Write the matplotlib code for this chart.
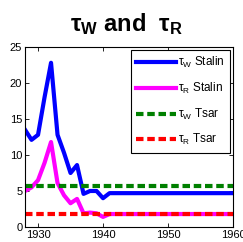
import numpy as np
import matplotlib
matplotlib.use('Agg')
import matplotlib.pyplot as plt

plt.rcParams['font.family'] = ['Liberation Sans', 'DejaVu Sans']
plt.rcParams['mathtext.fontset'] = 'custom'
plt.rcParams['mathtext.rm'] = 'Liberation Sans'
plt.rcParams['mathtext.it'] = 'Liberation Sans:italic'
plt.rcParams['mathtext.bf'] = 'Liberation Sans:bold'
plt.rcParams['mathtext.default'] = 'regular'

# Data
years = [1928, 1929, 1930, 1931, 1932, 1933, 1934, 1935, 1936, 1937,
         1938, 1939, 1940, 1941, 1960]
tau_w_stalin = [13.5, 12.1, 12.8, 18.0, 22.8, 12.8, 10.3, 7.5, 8.6, 4.6,
                5.0, 5.0, 4.0, 4.7, 4.7]
tau_r_stalin = [5.0, 5.5, 6.5, 8.9, 11.8, 6.1, 4.4, 3.3, 3.9, 1.9,
                2.0, 1.9, 1.4, 1.8, 1.8]
tau_w_tsar = 5.7
tau_r_tsar = 1.8

fig = plt.figure(figsize=(2.43, 2.42), dpi=100)
ax = fig.add_axes([0.103, 0.062, 0.856, 0.744])

ax.plot(years, tau_w_stalin, color='blue', lw=3, label=r'$\tau_W$ Stalin')
ax.plot(years, tau_r_stalin, color='magenta', lw=3, label=r'$\tau_R$ Stalin')
ax.plot([1928, 1960], [tau_w_tsar, tau_w_tsar], color='green', lw=3,
        dashes=(1.8, 0.9), label=r'$\tau_W$ Tsar')
ax.plot([1928, 1960], [tau_r_tsar, tau_r_tsar], color='red', lw=3,
        dashes=(1.8, 0.9), label=r'$\tau_R$ Tsar')

ax.set_xlim(1928, 1960)
ax.set_ylim(0, 25)
ax.set_xticks([1930, 1940, 1950, 1960])
ax.set_yticks([0, 5, 10, 15, 20, 25])
ax.tick_params(direction='in', top=True, right=True, labelsize=8, length=3,
               width=0.6, pad=2)
for s in ax.spines.values():
    s.set_linewidth(0.8)

leg = ax.legend(loc='upper right', fontsize=8.5, handlelength=3.4,
                handletextpad=0.15, labelspacing=0.9, borderpad=0.45,
                fancybox=False, edgecolor='black', framealpha=1,
                borderaxespad=0.25)
leg.get_frame().set_linewidth(0.8)

fig.text(0.52, 0.9, r'$\tau_{\mathbf{W}}$ and  $\tau_{\mathbf{R}}$',
         ha='center', va='center', fontsize=17, fontweight='bold')

fig.savefig('out.png', dpi=100)
